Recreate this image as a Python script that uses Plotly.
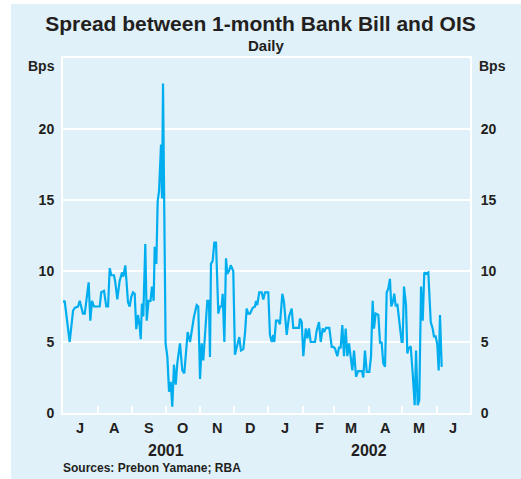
import pandas as pd
import plotly.graph_objects as go

# ---- data ----
start_date = "2001-07-01"
day_offset = [0, 1.5, 6.0, 9.0, 10.5, 13.5, 15.0, 17.9, 19.5, 23.0, 24.5, 26.0, 27.8, 32.9, 34.3, 36.8,
              38.8, 40.4, 41.9, 43.3, 45.7, 46.9, 48.7, 50.8, 52.9, 54.1, 55.9, 56.8, 58.3, 59.8, 61.3,
              62.8, 64.3, 65.7, 67.3, 68.8, 69.7, 70.8, 72.0, 73.8, 75.1, 76.7, 78.5, 79.8, 81.3, 82.2,
              83.7, 84.9, 86.1, 87.9, 88.8, 89.7, 90.9, 92.0, 93.6, 95.1, 96.6, 98.0, 99.5, 101.1, 102.5,
              104.9, 107.0, 108.8, 111.8, 113.9, 116.3, 117.5, 119.9, 121.3, 122.9, 124.4, 125.8, 127.6,
              129.4, 130.9, 131.8, 132.7, 134.2, 135.7, 137.2, 139.3, 140.8, 142.3, 143.2, 144.7, 146.2,
              147.3, 148.9, 150.4, 152.7, 154.2, 155.8, 158.1, 159.6, 161.7, 163.2, 164.7, 166.2, 167.7,
              170.1, 172.2, 173.1, 174.2, 176.0, 178.2, 179.6, 181.2, 184.1, 185.6, 187.2, 188.6, 189.5,
              191.0, 193.1, 194.6, 196.7, 198.2, 200.6, 202.7, 205.1, 206.5, 211.6, 212.5, 214.1, 215.5,
              217.7, 219.1, 220.6, 222.1, 226.0, 227.5, 229.6, 231.1, 232.9, 234.1, 235.9, 238.8, 241.0,
              242.4, 243.9, 246.0, 247.5, 249.0, 250.5, 252.0, 253.5, 255.0, 256.5, 258.0, 259.5, 261.0,
              262.8, 264.6, 268.2, 269.3, 270.8, 272.4, 274.7, 276.2, 277.7, 278.9, 280.4, 282.8, 284.3,
              285.8, 287.2, 288.8, 290.3, 291.7, 293.2, 294.4, 295.7, 297.1, 298.4, 299.8, 301.6, 303.7,
              304.6, 305.8, 307.6, 308.8, 310.0, 311.8, 313.6, 315.4, 316.6, 318.1, 319.5, 321.1, 322.6,
              324.0, 325.5, 327.6, 329.8, 331.5, 332.7, 334.2, 335.7, 336.9, 338.1, 339.6]
spread_bps = [7.8, 7.9, 5.0, 7.2, 7.4, 7.5, 7.9, 7.0, 7.0, 9.2, 6.5, 7.9, 7.5, 7.5, 8.5, 8.6,
              7.5, 7.5, 10.2, 9.7, 9.7, 9.2, 8.0, 9.3, 9.9, 9.6, 10.4, 9.3, 7.8, 7.5, 8.2,
              8.5, 8.4, 5.9, 6.9, 6.1, 5.2, 7.7, 6.8, 11.9, 6.5, 7.9, 7.9, 8.9, 7.9, 11.7,
              10.5, 14.9, 15.6, 18.9, 15.1, 23.2, 15.1, 4.9, 3.95, 1.5, 2.2, 0.45, 3.4, 2.0, 3.5,
              4.9, 3.0, 2.8, 5.7, 5.0, 6.2, 6.8, 7.6, 7.5, 2.4, 4.9, 3.7, 5.6,
              7.9, 7.9, 3.95, 10.5, 10.7, 12.0, 12.0, 7.0, 7.5, 7.5, 8.4, 5.0, 10.9,
              9.8, 10.0, 10.4, 10.0, 4.1, 4.65, 5.35, 4.4, 4.5, 5.6, 7.35, 7.0, 7.0,
              7.4, 7.5, 7.9, 7.6, 8.5, 8.5, 8.0, 8.5, 8.5, 5.5, 5.0, 5.5, 5.0,
              6.5, 6.5, 6.25, 8.4, 7.8, 5.5, 6.8, 7.35, 6.0, 6.0, 6.65, 6.4, 4.0,
              5.95, 5.25, 5.95, 5.0, 5.0, 5.8, 6.4, 5.0, 5.95, 5.7, 6.0, 6.0, 4.65,
              4.65, 4.55, 4.0, 4.6, 4.6, 6.2, 4.0, 5.95, 4.0, 4.9, 3.95, 3.0, 4.4,
              2.55, 2.95, 2.95, 2.5, 4.4, 2.9, 2.9, 3.95, 7.9, 5.95, 7.0, 6.9, 4.95,
              4.95, 3.5, 3.25, 8.5, 8.75, 9.45, 7.5, 7.8, 8.4, 7.5, 7.7, 6.4, 5.0,
              5.0, 8.9, 7.6, 4.2, 4.55, 4.7, 2.8, 0.55, 4.4, 0.55, 0.9, 8.9, 6.5,
              9.9, 9.8, 9.9, 6.4, 5.95, 5.4, 5.4, 4.8, 3.0, 6.9, 3.25]

month_starts = pd.date_range("2001-07-01", "2002-06-01", freq="MS")
month_labels = ["J", "A", "S", "O", "N", "D", "J", "F", "M", "A", "M", "J"]
year_labels = ["2001", "2002"]
year_centres = ["2001-10-01", "2002-04-01"]
y_ticks = [0, 5, 10, 15, 20]
y_tick_text = ["0", "5", "10", "15", "20"]

# ---- styling ----
BG = "#e0f1fa"
LINE = "#00aeef"
TXT = "#231f20"
FONT = "Liberation Sans, Arial, sans-serif"

dates = pd.Timestamp(start_date) + pd.to_timedelta(day_offset, unit="D")

fig = go.Figure()
fig.add_trace(go.Scatter(x=dates, y=spread_bps, mode="lines",
                         line=dict(color=LINE, width=2.2), showlegend=False,
                         hoverinfo="x+y"))
fig.add_trace(go.Scatter(x=dates, y=spread_bps, mode="lines", yaxis="y2",
                         line=dict(color="rgba(0,0,0,0)", width=0), showlegend=False,
                         hoverinfo="skip"))

W, H = 521, 479
ml, mr, mt, mb = 63, 51, 58, 66
pw, ph = W - ml - mr, H - mt - mb


def px_x(x):
    return (x - ml) / pw


def px_y(y):
    return (H - mb - y) / ph


def b(s):
    return "<b>" + s + "</b>"


annotations = []
mid_months = month_starts + pd.Timedelta(days=15)
for d, lab in zip(mid_months, month_labels):
    annotations.append(dict(x=d, y=px_y(428), xref="x", yref="paper", text=b(lab),
                            showarrow=False, font=dict(size=14.5, color=TXT, family=FONT),
                            xanchor="center", yanchor="middle"))
for d, lab in zip(year_centres, year_labels):
    annotations.append(dict(x=d, y=px_y(450), xref="x", yref="paper", text=b(lab),
                            showarrow=False, font=dict(size=16, color=TXT, family=FONT),
                            xanchor="center", yanchor="middle"))
annotations += [
    dict(x=px_x(61), y=px_y(468), xref="paper", yref="paper", text=b("Sources: Prebon Yamane; RBA"),
         showarrow=False, font=dict(size=12, color=TXT, family=FONT), xanchor="left", yanchor="middle"),
    dict(x=0.5, y=px_y(45), xref="paper", yref="paper", text=b("Daily"),
         showarrow=False, font=dict(size=15, color=TXT, family=FONT), xanchor="center", yanchor="middle"),
    dict(x=px_x(57), y=px_y(66), xref="paper", yref="paper", text=b("Bps"),
         showarrow=False, font=dict(size=14, color=TXT, family=FONT), xanchor="right", yanchor="middle"),
    dict(x=px_x(477), y=px_y(66), xref="paper", yref="paper", text=b("Bps"),
         showarrow=False, font=dict(size=14, color=TXT, family=FONT), xanchor="left", yanchor="middle"),
]

shapes = [
    dict(type="rect", xref="paper", yref="paper", x0=px_x(-5), x1=px_x(11), y0=px_y(485), y1=px_y(-5),
         fillcolor="white", line=dict(width=0), layer="below"),
    dict(type="rect", xref="paper", yref="paper", x0=px_x(-5), x1=px_x(530), y0=px_y(4), y1=px_y(-5),
         fillcolor="white", line=dict(width=0), layer="below"),
]

tickfont = dict(size=14, color=TXT, family=FONT)
fig.update_layout(
    width=W, height=H,
    margin=dict(l=ml, r=mr, t=mt, b=mb, pad=0),
    paper_bgcolor=BG, plot_bgcolor=BG,
    font=dict(family=FONT, color=TXT),
    title=dict(text=b("Spread between 1-month Bank Bill and OIS"), x=0.5, xref="container",
               xanchor="center", y=1 - 24 / H, yanchor="middle",
               font=dict(size=21, color=TXT, family=FONT)),
    xaxis=dict(type="date", range=["2001-07-01", "2002-07-01"], tick0="2001-07-01", dtick="M1",
               ticks="inside", ticklen=7, tickwidth=1.5, tickcolor="white",
               showticklabels=False, showgrid=False, zeroline=False,
               showline=True, linecolor="white", linewidth=2, mirror=True, fixedrange=True),
    yaxis=dict(range=[0, 25], tickvals=y_ticks, ticktext=[b(t) for t in y_tick_text], ticks="",
               showgrid=True, gridcolor="white",
               gridwidth=1.5, zeroline=False, showline=True, linecolor="white", linewidth=2,
               tickfont=tickfont, ticklabelstandoff=4),
    yaxis2=dict(range=[0, 25], tickvals=y_ticks, ticktext=[b(t) for t in y_tick_text],
                overlaying="y", side="right", matches="y",
                showgrid=False, zeroline=False, showline=True, linecolor="white", linewidth=2,
                tickfont=tickfont, ticklabelstandoff=6),
    annotations=annotations,
    shapes=shapes,
    hovermode="closest",
)

fig.write_html("out.html", config={"displayModeBar": False},
               post_script="document.body.style.margin='0';document.body.style.padding='0';")
